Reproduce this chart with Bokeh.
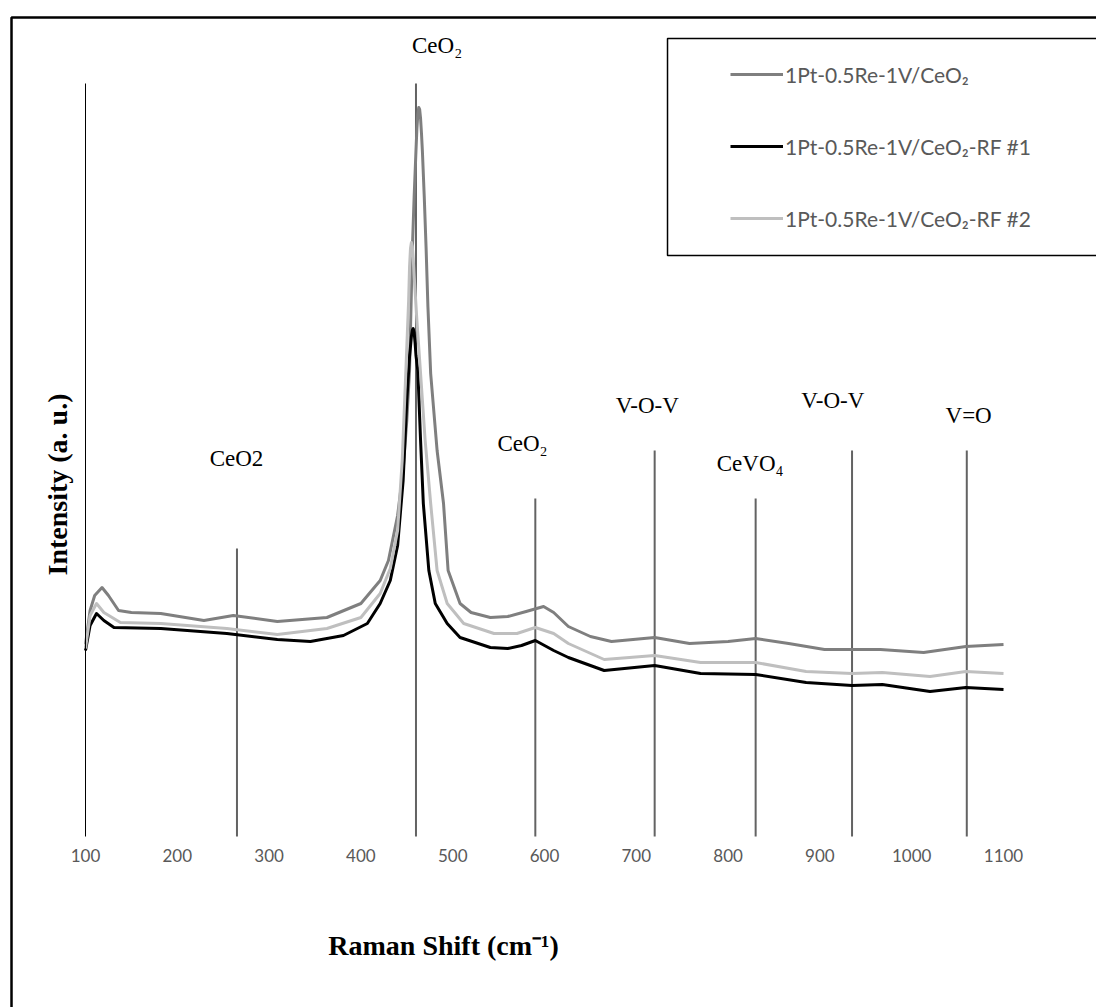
import math
from bokeh.plotting import figure
from bokeh.models import Label, BoxAnnotation, Legend, LegendItem, FixedTicker
from bokeh.embed import file_html
from bokeh.resources import INLINE

# ---- data (Raman shift in cm-1, intensity in arbitrary units) ----
x_ticks = [100, 200, 300, 400, 500, 600, 700, 800, 900, 1000, 1100]

shift_a = [100, 105, 110, 118, 125, 136, 150, 182, 229, 261, 309, 363, 400, 421, 430, 440, 446, 450, 453,
           456, 458, 460, 461, 462, 463, 464, 465, 466, 467, 469, 471, 473, 476, 483, 490, 495, 508, 520,
           541, 560, 580, 599, 610, 626, 650, 673, 720, 758, 800, 830, 866, 905, 966, 1013, 1059, 1100]
int_a = [192, 226, 241, 249, 241, 226, 224, 223, 216, 221, 215, 219, 233, 256, 276, 321, 366, 416, 466,
         586, 640, 686, 708, 722, 729, 727, 718, 703, 685, 640, 589, 530, 463, 386, 333, 266, 233, 224,
         219, 220, 225, 230, 224, 210, 200, 195, 199, 193, 195, 198, 193, 187, 187, 184, 190, 192]

shift_b = [100, 105, 112, 120, 131, 182, 254, 309, 345, 381, 407, 421, 432, 440, 446, 450, 453, 455,
           456, 457, 458, 459, 460, 462, 465, 468, 474, 481, 494, 508, 541, 560, 575, 590, 610, 626,
           665, 720, 770, 830, 885, 935, 968, 1020, 1059, 1100]
int_b = [186, 211, 223, 216, 209, 208, 203, 197, 195, 201, 213, 233, 256, 291, 356, 436, 480, 500,
         506, 508, 504, 494, 481, 466, 396, 333, 266, 233, 213, 199, 189, 188, 191, 196, 186, 179,
         166, 171, 163, 162, 154, 151, 152, 145, 149, 147]

shift_c = [100, 105, 112, 120, 138, 182, 254, 309, 363, 400, 421, 432, 440, 445, 449, 452, 453, 454,
           455, 456, 457, 458, 461, 465, 470, 476, 483, 494, 512, 545, 570, 590, 610, 626, 665, 720,
           770, 830, 885, 935, 968, 1020, 1059, 1100]
int_c = [188, 221, 233, 224, 214, 213, 208, 202, 208, 219, 243, 268, 306, 376, 466, 536, 570, 588,
         594, 590, 578, 561, 516, 463, 396, 333, 266, 233, 213, 203, 203, 209, 203, 193, 177, 181,
         174, 174, 165, 163, 164, 160, 165, 163]

series_names = ["1Pt-0.5Re-1V/CeO\u2082", "1Pt-0.5Re-1V/CeO\u2082-RF #1", "1Pt-0.5Re-1V/CeO\u2082-RF #2"]
series_colors = ["#7f7f7f", "#000000", "#bfbfbf"]

band_shift = [265, 460, 590, 720, 830, 935, 1060]
band_top = [288, 753, 338, 386, 338, 386, 386]
band_labels = ["CeO2", "CeO\u2082", "CeO\u2082", "V-O-V", "CeVO\u2084", "V-O-V", "V=O"]
band_label_x = [264.5, 483, 576, 712, 824, 914, 1062]
band_label_y = [378, 791, 393, 431, 373, 436, 421]

p = figure(width=1096, height=1007, x_range=(7.407, 1201.3), y_range=(-171, 836),
           output_backend="svg", toolbar_location=None,
           min_border_left=0, min_border_right=0, min_border_top=0, min_border_bottom=0)
p.outline_line_color = None
p.xgrid.visible = False
p.ygrid.visible = False
p.background_fill_color = "white"
p.border_fill_color = "white"

p.xaxis.fixed_location = 0
p.xaxis.bounds = (100, 1100)
p.xaxis.ticker = FixedTicker(ticks=x_ticks)
p.xaxis.axis_line_color = None
p.xaxis.major_tick_line_color = None
p.xaxis.minor_tick_line_color = None
p.xaxis.major_label_text_font = "Lato"
p.xaxis.major_label_text_font_size = "17px"
p.xaxis.major_label_text_color = "#595959"
p.xaxis.major_label_standoff = 6

p.yaxis.fixed_location = 100
p.yaxis.bounds = (0, 753)
p.yaxis.ticker = FixedTicker(ticks=[])
p.yaxis.axis_line_color = "#000000"
p.yaxis.axis_line_width = 1
p.yaxis.major_tick_line_color = None
p.yaxis.minor_tick_line_color = None

# band marker lines
p.segment(x0=band_shift, y0=[0] * len(band_shift), x1=band_shift, y1=band_top,
          line_color="#636363", line_width=2)

renderers = []
for xs, ys, c in [(shift_a, int_a, series_colors[0]), (shift_b, int_b, series_colors[1]),
                  (shift_c, int_c, series_colors[2])]:
    r = p.line(xs, ys, line_color=c, line_width=3, line_join="round")
    renderers.append(r)

for t, lx, ly in zip(band_labels, band_label_x, band_label_y):
    p.add_layout(Label(x=lx, y=ly, text=t, text_font="Liberation Serif", text_font_size="23px",
                       text_align="center", text_baseline="middle", text_color="#000000"))

p.add_layout(Label(x=69.5, y=352, text="Intensity (a. u.)", angle=math.pi / 2,
                   text_font="Liberation Serif", text_font_style="bold", text_font_size="28px",
                   text_align="center", text_baseline="middle", text_color="#000000"))
p.add_layout(Label(x=490, y=-109, text="Raman Shift (cm\u207b\u00b9)",
                   text_font="Liberation Serif", text_font_style="bold", text_font_size="28px",
                   text_align="center", text_baseline="middle", text_color="#000000"))

# frames
p.add_layout(BoxAnnotation(left=19.4, right=1300, top=819, bottom=-400, fill_alpha=0,
                           line_color="#000000", line_alpha=1, line_width=2.5))
p.add_layout(BoxAnnotation(left=734, right=1250, top=798, bottom=581, fill_alpha=0,
                           line_color="#000000", line_alpha=1, line_width=1.5))

legend = Legend(items=[LegendItem(label=series_names[i], renderers=[renderers[i]]) for i in range(3)],
                location=(730, 753), border_line_color=None, background_fill_alpha=0,
                padding=0, spacing=0, margin=0, glyph_width=53, glyph_height=72, label_height=72,
                label_standoff=2, label_text_font="Lato", label_text_font_size="21px",
                label_text_color="#595959")
p.add_layout(legend)

open("out.html", "w").write(file_html(p, INLINE))
